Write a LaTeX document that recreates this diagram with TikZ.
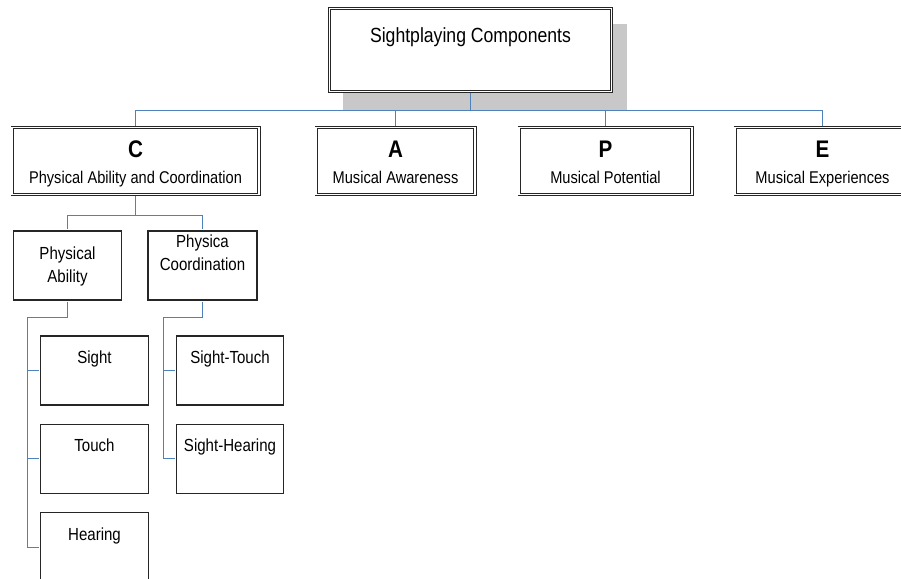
\documentclass[tikz,border=0pt]{standalone}
\usepackage{fontspec}
\setmainfont{Liberation Sans}[FakeStretch=0.86]
\usetikzlibrary{positioning}
\usetikzlibrary{shadows}
\definecolor{linkblue}{RGB}{79,129,189}
\definecolor{shadowgray}{RGB}{200,200,200}
\newcommand{\twolines}[2]{\begin{tabular}[t]{@{}c@{}}#1\\#2\end{tabular}}
\newcommand{\catletter}{\fontsize{24}{26}\bfseries\selectfont}
\tikzset {
  node distance={18.2pt},
  % blue elbow connectors
  conn/.style={linkblue, line width=1pt, shorten <=1pt, shorten >=1pt},
  % double framed boxes on the two upper levels
  framed/.style={draw=black!85, double, double distance=1.6pt, line width=0.8pt, fill=white, inner sep=0pt},
  topbox/.style={framed, minimum width=281.8pt, minimum height=82.8pt,
    text height=34.4pt, text depth=48.4pt, font=\fontsize{20.5}{24}\selectfont,
    drop shadow={shadow xshift=14.5pt, shadow yshift=-17pt, fill=shadowgray, draw=shadowgray, line width=3pt, opacity=1}},
  catbox/.style={framed, minimum height=66.8pt, text height=29.4pt, text depth=37.4pt,
    font=\fontsize{17}{26}\selectfont},
  % plain boxes below
  subbox/.style={draw=black!85, line width=1.3pt, fill=white, inner sep=0pt,
    minimum width=108pt, minimum height=68.8pt, text height=27.4pt, text depth=41.4pt,
    font=\fontsize{17.5}{22.5}\selectfont},
}

\begin{document}
\begin{tikzpicture}[x=1pt, y=-1pt]
  \useasboundingbox (0,0) rectangle (901,578);

  \node[topbox] (top) at (470.5,50) {Sightplaying Components};

  \node[catbox, minimum width=246.8pt] (c) at (135.5,161) {\twolines{\catletter C}{Physical Ability and Coordination}};
  \node[catbox, minimum width=158.8pt] (a) at (395.5,161) {\twolines{\catletter A}{Musical Awareness}};
  \node[catbox, minimum width=172.8pt] (p) at (605.5,161) {\twolines{\catletter P}{Musical Potential}};
  \node[catbox, minimum width=174.8pt] (e) at (822.5,161) {\twolines{\catletter E}{Musical Experiences}};

  \node[subbox, text height=28.4pt, text depth=40.4pt] (pa) at (67.5,265.5) {\twolines{Physical}{Ability}};
  \node[subbox, minimum width=109pt, text height=16.4pt, text depth=52.4pt] (pc) at (202.5,265.5) {\twolines{Physica}{Coordination}};

  \node[subbox] (sight) at (94.5,370.5) {Sight};
  \node[subbox, below=of sight] (touch) {Touch};
  \node[subbox, below=of touch] (hearing) {Hearing};

  \node[subbox, minimum width=107pt] (st) at (230,370.5) {Sight-Touch};
  \node[subbox, minimum width=107pt, below=of st] (sh) {Sight-Hearing};

  \coordinate (bus) at (0,110.5);
  \coordinate (cbus) at (0,215.5);
  \coordinate (paspine) at (27.5,317.5);
  \coordinate (pcspine) at (163.5,317.5);

  \draw[conn] (top.south) -- (top.south |- bus) -| (c.north);
  \draw[conn] (top.south) -- (top.south |- bus) -| (a.north);
  \draw[conn] (top.south) -- (top.south |- bus) -| (p.north);
  \draw[conn] (top.south) -- (top.south |- bus) -| (e.north);

  \draw[conn] (c.south) -- (c.south |- cbus) -| (pa.north);
  \draw[conn] (c.south) -- (c.south |- cbus) -| (pc.north);

  \draw[conn] (pa.south) |- (paspine) |- (sight.west);
  \draw[conn] (paspine) |- (touch.west);
  \draw[conn] (paspine) |- (hearing.west);

  \draw[conn] (pc.south) |- (pcspine) |- (st.west);
  \draw[conn] (pcspine) |- (sh.west);
\end{tikzpicture}
\end{document}
